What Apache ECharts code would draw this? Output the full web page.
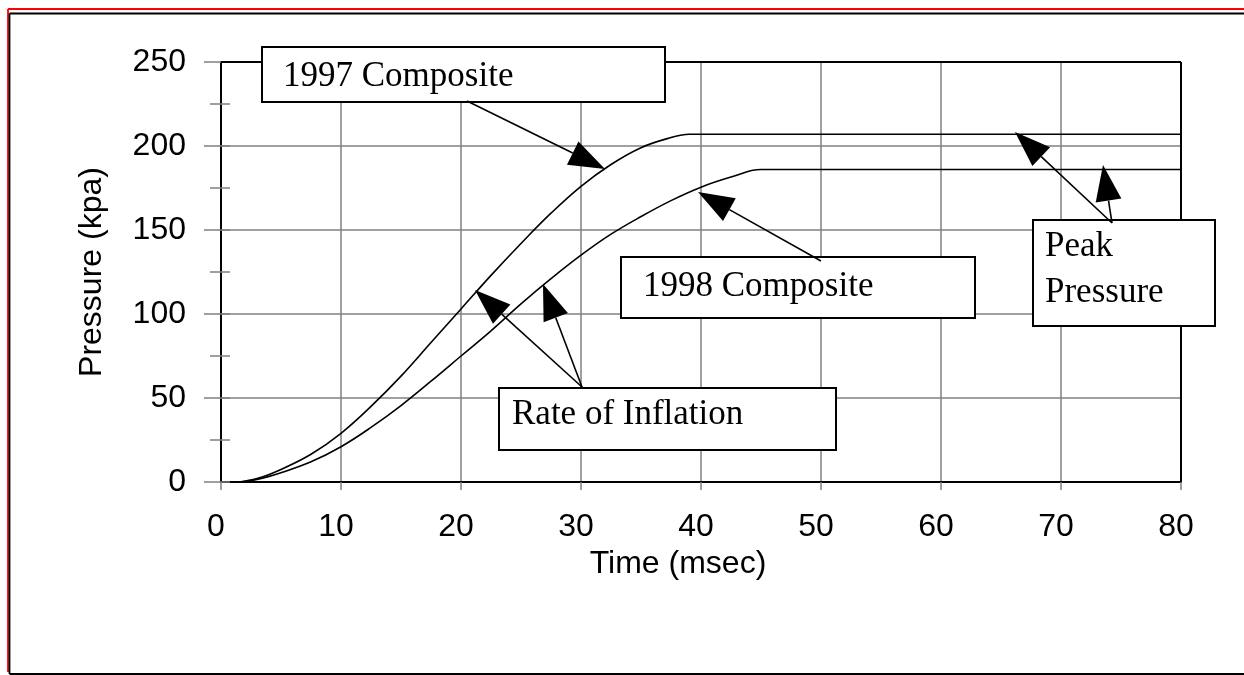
<!DOCTYPE html>
<html>
<head>
<meta charset="utf-8">
<title>Pressure vs Time</title>
<script src="https://cdn.jsdelivr.net/npm/echarts@6/dist/echarts.min.js"></script>
<style>
    html, body { margin: 0; padding: 0; background: #fff; }
    #chart { width: 1244px; height: 675px; }
</style>
</head>
<body>
<div id="chart"></div>
<script>
// --- data ---
const time1997 = [1.5, 3, 5, 7.5, 10, 12.5, 15, 17.5, 20, 22.5, 25, 27.5, 30, 32.5, 35, 37.5, 39, 42, 80];
const pressure1997 = [0, 2, 7.5, 16.5, 29, 45, 63, 83, 103, 123, 142, 160, 176, 189, 199, 205, 207, 207, 207];

const time1998 = [1.5, 3, 5, 7.5, 10, 12.5, 15, 17.5, 20, 22.5, 25, 27.5, 30, 32.5, 35, 37.5, 40, 42.5, 45, 48, 80];
const pressure1998 = [0, 1.5, 5.5, 12, 21, 32.5, 45.5, 60, 75, 90, 106, 121, 135, 147.5, 158, 167.5, 175.5, 181.5, 186, 186, 186];

const xTicks = [0, 10, 20, 30, 40, 50, 60, 70, 80];
const yTicks = [0, 50, 100, 150, 200, 250];

const GRAY = '#808080';
const SANS = 'Liberation Sans, Arial, sans-serif';
const SERIF = 'Liberation Serif, Times New Roman, serif';

let chart;

document.addEventListener('DOMContentLoaded', function() {
    chart = echarts.init(document.getElementById('chart'));
    render();
});

function pairs(xs, ys) {
    return xs.map((x, i) => [x, ys[i]]);
}

// 线段 + 实心箭头
function arrow(tail, tip) {
    const headLen = 36, headW = 26;
    const dx = tip[0] - tail[0], dy = tip[1] - tail[1];
    const len = Math.sqrt(dx * dx + dy * dy);
    const ux = dx / len, uy = dy / len;
    const bx = tip[0] - ux * headLen, by = tip[1] - uy * headLen;
    const px = -uy * headW / 2, py = ux * headW / 2;
    return [
        { type: 'line', z: 110, shape: { x1: tail[0], y1: tail[1], x2: bx, y2: by },
          style: { stroke: '#000', lineWidth: 1.6 } },
        { type: 'polygon', z: 110, shape: { points: [tip, [bx + px, by + py], [bx - px, by - py]] },
          style: { fill: '#000' } }
    ];
}

function box(x, y, w, h) {
    return { type: 'rect', z: 100, shape: { x: x, y: y, width: w, height: h },
             style: { fill: '#fff', stroke: '#000', lineWidth: 2 } };
}

function label(text, x, y) {
    return { type: 'text', z: 105, x: x, y: y,
             style: { text: text, font: '35px ' + SERIF, fill: '#000', align: 'left', verticalAlign: 'middle' } };
}

function line(x1, y1, x2, y2, color, w) {
    return { type: 'line', z: 90, shape: { x1: x1, y1: y1, x2: x2, y2: y2 },
             style: { stroke: color, lineWidth: w } };
}

function render() {
    const graphics = [
        // 页面外框
        line(8, 9, 1244, 9, '#ff0000', 1.8),
        line(8, 9, 8, 672, '#ff0000', 1.8),
        line(9.5, 13.5, 1244, 13.5, '#000', 1.8),
        line(9.5, 13.5, 9.5, 674, '#000', 1.8),
        line(9.5, 674, 1244, 674, '#000', 2),
        // 绘图区上/右边框
        line(221, 62, 1181, 62, '#000', 2),
        line(1181, 62, 1181, 482, '#000', 2),
        // 注释框
        box(262, 47, 403, 55), label('1997 Composite', 283, 76.5),
        box(621, 257, 354, 61), label('1998 Composite', 643, 287.2),
        box(499, 388, 337, 62), label('Rate of Inflation', 512, 415),
        box(1033, 220, 182, 106), label('Peak', 1045, 246.5), label('Pressure', 1045, 293.2)
    ].concat(
        arrow([467, 101], [605, 169]),
        arrow([821, 261], [698, 192]),
        arrow([582, 387], [475, 290]),
        arrow([582, 387], [543, 284]),
        arrow([1112, 223], [1015, 132]),
        arrow([1112, 223], [1103, 165])
    );

    chart.setOption({
        animation: false,
        backgroundColor: '#fff',
        grid: { left: 221, top: 62, right: 63, bottom: 193, containLabel: false, show: false },
        xAxis: {
            type: 'value',
            min: xTicks[0], max: xTicks[xTicks.length - 1], interval: 10,
            name: 'Time (msec)', nameLocation: 'middle', nameGap: 66,
            nameTextStyle: { fontSize: 32, fontFamily: SANS, color: '#000', padding: [0, 46, 0, 0] },
            axisLine: { show: true, onZero: false, lineStyle: { color: '#000', width: 2 } },
            axisTick: { show: true, length: 8, lineStyle: { color: GRAY, width: 1.5 } },
            axisLabel: { fontSize: 32, fontFamily: SANS, color: '#000', margin: 29, padding: [0, 10, 0, 0] },
            splitLine: { show: true, lineStyle: { color: GRAY, width: 1.5 } }
        },
        yAxis: [{
            type: 'value',
            min: yTicks[0], max: yTicks[yTicks.length - 1], interval: 50,
            name: 'Pressure (kpa)', nameLocation: 'middle', nameGap: 113,
            nameTextStyle: { fontSize: 32, fontFamily: SANS, color: '#000' },
            axisLine: { show: true, onZero: false, lineStyle: { color: '#000', width: 2 } },
            axisTick: { show: true, length: 17, lineStyle: { color: GRAY, width: 1.5 } },
            minorTick: { show: true, splitNumber: 2, length: 11, lineStyle: { color: GRAY, width: 1.5 } },
            axisLabel: { fontSize: 32, fontFamily: SANS, color: '#000', margin: 35 },
            splitLine: { show: true, lineStyle: { color: GRAY, width: 1.5 } }
        }, {
            // 只用来画穿过轴线的内侧小刻度
            type: 'value', position: 'left',
            min: yTicks[0], max: yTicks[yTicks.length - 1], interval: 25,
            axisLine: { show: false },
            axisTick: { show: true, inside: true, length: 9, lineStyle: { color: GRAY, width: 1.5 } },
            axisLabel: { show: false },
            splitLine: { show: false }
        }],
        series: [{
            name: '1997 Composite', type: 'line', yAxisIndex: 0,
            data: pairs(time1997, pressure1997),
            showSymbol: false, smooth: 0.4,
            lineStyle: { color: '#000', width: 1.6 }, z: 5
        }, {
            name: '1998 Composite', type: 'line', yAxisIndex: 0,
            data: pairs(time1998, pressure1998),
            showSymbol: false, smooth: 0.4,
            lineStyle: { color: '#000', width: 1.6 }, z: 5
        }],
        graphic: graphics
    });
}
</script>
</body>
</html>
